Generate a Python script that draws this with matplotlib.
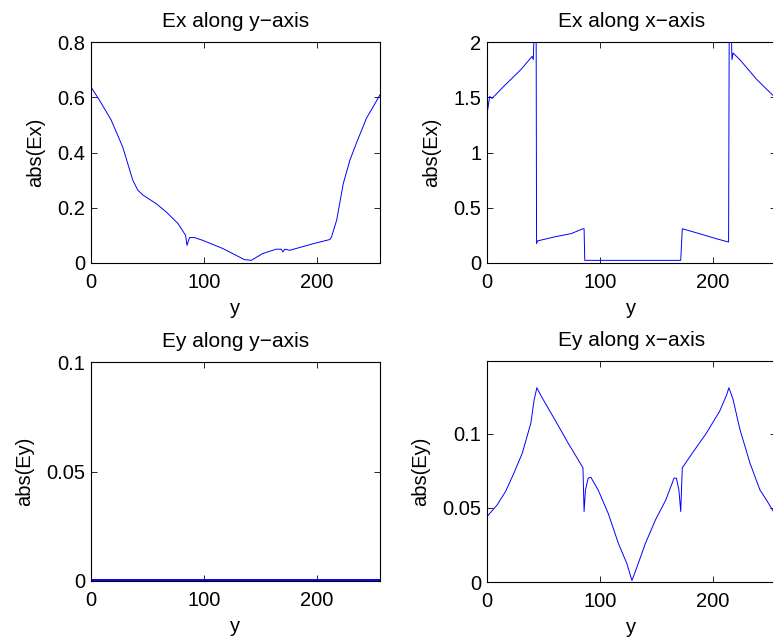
import matplotlib

matplotlib.use("Agg")
import matplotlib.pyplot as plt  # noqa: E402

plt.rcParams["font.family"] = ["Liberation Sans", "DejaVu Sans"]
plt.rcParams["font.size"] = 14.5

# Ex along y-axis
ex_y_pos = [0, 7.4, 17.8, 28, 37, 41.4, 46, 57.7, 66.6, 77, 83.8, 85, 87.3, 91.7, 99,
            117, 136, 142, 152, 164, 168.7, 170, 171.6, 176, 197, 211.6, 213, 217.6,
            223.5, 229.4, 235, 244, 250, 256]
ex_y_val = [0.637, 0.59, 0.518, 0.421, 0.30, 0.264, 0.246, 0.215, 0.185, 0.143, 0.10,
            0.064, 0.092, 0.092, 0.082, 0.052, 0.012, 0.0097, 0.034, 0.050, 0.050, 0.040,
            0.050, 0.046, 0.070, 0.085, 0.094, 0.155, 0.288, 0.373, 0.433, 0.524, 0.566,
            0.609]

# Ex along x-axis
ex_x_pos = [0, 0.6, 2.4, 4.5, 15, 30, 40, 41, 42.4, 43.5, 43.9, 44.8, 59.7, 74.6, 85, 86,
            86.6, 171.6, 173, 188, 203, 214, 214.6, 216, 217, 218, 224, 239, 254, 256]
ex_x_val = [1.855, 1.386, 1.507, 1.49, 1.60, 1.75, 1.87, 1.84, 2.3, 2.3, 0.175, 0.20,
            0.236, 0.266, 0.31, 0.31, 0.024, 0.024, 0.31, 0.266, 0.22, 0.19, 2.3, 2.3,
            1.84, 1.9, 1.84, 1.66, 1.51, 1.48]

# Ey along y-axis (practically zero)
ey_y_pos = [0, 64, 128, 192, 256]
ey_y_val = [0.0004, 0.0004, 0.0004, 0.0004, 0.0004]

# Ey along x-axis
ey_x_pos = [0, 9, 16.4, 23.9, 31.3, 38.8, 41.8, 44.2, 47.8, 59.7, 71.6, 80.6, 85, 86,
            87.2, 89.6, 92, 98.5, 107.5, 116.4, 123.9, 128.4, 132.8, 140.3, 149.3, 158.2,
            165.7, 167.8, 170, 171.6, 173, 182, 194, 206, 212, 214.3, 218, 224, 233,
            241.8, 247.8, 253.7, 256]
ey_x_val = [0.0441, 0.052, 0.061, 0.0735, 0.087, 0.107, 0.123, 0.131, 0.1256, 0.110,
            0.094, 0.0826, 0.077, 0.0475, 0.062, 0.070, 0.0706, 0.062, 0.046, 0.026,
            0.0124, 0.001, 0.010, 0.026, 0.042, 0.055, 0.070, 0.070, 0.062, 0.0475,
            0.077, 0.087, 0.1, 0.115, 0.1256, 0.131, 0.123, 0.103, 0.080, 0.062, 0.055,
            0.0475, 0.044]

W, H = 773, 644
fig = plt.figure(figsize=(W / 100, H / 100), dpi=100)


def make_ax(left, top, right, bottom):
    return fig.add_axes([left / W, 1 - bottom / H, (right - left) / W, (bottom - top) / H])


panels = [
    (make_ax(91, 42, 380, 263), ex_y_pos, ex_y_val, "Ex along y\u2212axis", "abs(Ex)",
     (0, 0.8), [0, 0.2, 0.4, 0.6, 0.8], ["0", "0.2", "0.4", "0.6", "0.8"], 0.7),
    (make_ax(487, 42, 776, 263), ex_x_pos, ex_x_val, "Ex along x\u2212axis", "abs(Ex)",
     (0, 2), [0, 0.5, 1, 1.5, 2], ["0", "0.5", "1", "1.5", "2"], 0.7),
    (make_ax(91, 362, 380, 581), ey_y_pos, ey_y_val, "Ey along y\u2212axis", "abs(Ey)",
     (0, 0.1), [0, 0.05, 0.1], ["0", "0.05", "0.1"], 1.4),
    (make_ax(487, 361, 776, 582), ey_x_pos, ey_x_val, "Ey along x\u2212axis", "abs(Ey)",
     (0, 0.149), [0, 0.05, 0.1], ["0", "0.05", "0.1"], 0.7),
]

for ax, xs, ys, title, ylab, ylim, yt, ytl, lw in panels:
    ax.plot(xs, ys, color="blue", lw=lw)
    ax.set_xlim(0, 256)
    ax.set_ylim(*ylim)
    ax.set_xticks([0, 100, 200])
    ax.set_xticklabels(["0", "100", "200"])
    ax.set_yticks(yt)
    ax.set_yticklabels(ytl)
    ax.tick_params(direction="in", length=4, width=0.6, top=True, right=True)
    ax.tick_params(axis="x", pad=7)
    ax.tick_params(axis="y", pad=4)
    for s in ax.spines.values():
        s.set_linewidth(0.8)
    ax.set_title(title, fontsize=15, pad=11)
    ax.set_ylabel(ylab, labelpad=9)
    ax.set_xlabel("y", labelpad=5)

fig.savefig("out.png", dpi=100)
